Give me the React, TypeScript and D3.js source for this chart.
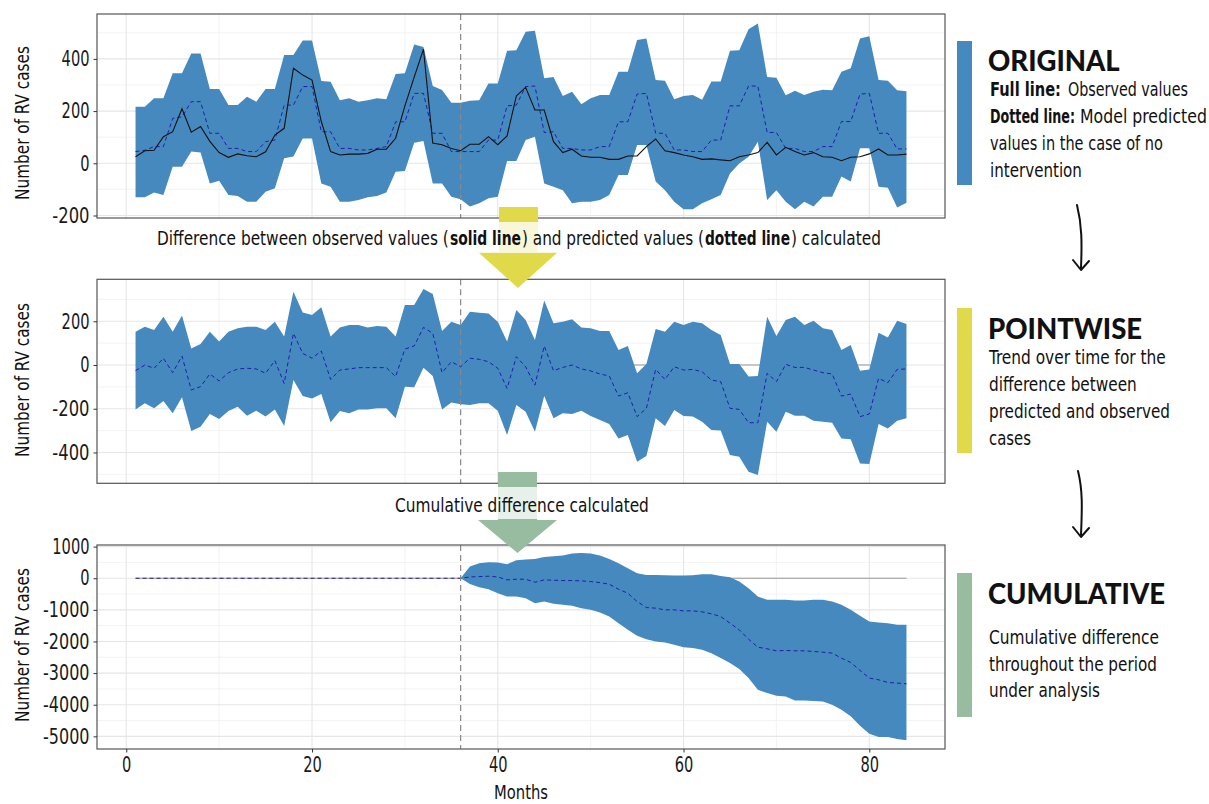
import React, { useRef, useEffect } from 'react';
import * as d3 from 'd3';

// months since start of series, intervention at month 36
const months = d3.range(1, 85);
const interventionMonth = 36;
const xTicks = [0, 20, 40, 60, 80];
const xMinorTicks = [10, 30, 50, 70];

// ORIGINAL panel
const origUpper = [
  217, 217, 249, 249, 345, 345, 421, 421, 285, 285, 223, 223,
  255, 236, 285, 285, 415, 415, 470, 470, 315, 312, 242, 249,
  236, 242, 249, 245, 342, 345, 455, 446, 296, 281, 232, 232,
  240, 242, 306, 306, 431, 433, 504, 508, 326, 331, 258, 274,
  226, 249, 262, 262, 351, 351, 472, 478, 319, 316, 245, 258,
  262, 243, 313, 313, 431, 433, 514, 536, 331, 328, 261, 278,
  262, 274, 282, 280, 351, 364, 478, 487, 319, 316, 280, 276,
];
const origLower = [
  -130, -130, -112, -121, -13, -13, 45, 41, -77, -67, -121, -125,
  -147, -147, -109, -96, 19, 26, 95, 95, -77, -90, -147, -147,
  -141, -130, -125, -112, -32, -30, 79, 85, -77, -77, -128, -138,
  -166, -153, -134, -128, 9, 9, 89, 102, -77, -90, -103, -153,
  -147, -147, -141, -121, -45, -45, 70, 70, -70, -103, -147, -176,
  -176, -153, -138, -121, -39, -1, 25, 83, -141, -103, -147, -176,
  -147, -166, -128, -128, -51, -70, 58, 58, -90, -94, -169, -151,
];
const observed = [
  25, 48, 50, 102, 121, 209, 119, 141, 84, 41, 23, 36,
  29, 25, 44, 108, 134, 364, 338, 319, 160, 45, 32, 35,
  35, 38, 54, 54, 96, 220, 330, 437, 78, 71, 57, 48,
  73, 73, 102, 71, 105, 258, 291, 204, 204, 83, 41, 54,
  28, 23, 23, 15, 15, 28, 28, 64, 93, 48, 41, 32,
  25, 15, 17, 13, 10, 25, 32, 41, 80, 32, 61, 45,
  32, 41, 25, 23, 10, 23, 25, 36, 55, 32, 32, 35,
];
const predicted = [
  45, 50, 64, 64, 172, 178, 236, 236, 115, 115, 57, 57,
  45, 45, 83, 89, 223, 223, 294, 294, 121, 121, 57, 57,
  51, 51, 57, 64, 159, 159, 268, 268, 115, 115, 45, 45,
  45, 45, 89, 89, 220, 223, 294, 296, 118, 121, 57, 57,
  51, 51, 64, 64, 159, 159, 265, 268, 115, 115, 51, 51,
  45, 45, 89, 89, 220, 220, 296, 296, 118, 118, 57, 57,
  45, 45, 64, 64, 160, 160, 265, 268, 115, 115, 55, 55,
];

// POINTWISE panel
const pointUpper = [
  152, 175, 160, 221, 152, 226, 76, 96, 152, 107, 152, 168,
  175, 175, 160, 198, 130, 335, 240, 229, 264, 130, 172, 183,
  183, 172, 178, 175, 130, 274, 274, 348, 325, 155, 198, 183,
  244, 239, 236, 198, 107, 252, 206, 114, 295, 191, 198, 209,
  172, 168, 155, 155, 69, 87, -38, 5, 165, 152, 198, 183,
  198, 191, 160, 137, 5, 5, -53, -50, 221, 133, 206, 221,
  183, 203, 168, 160, 69, 92, -26, -20, 148, 126, 203, 188,
];
const pointLower = [
  -203, -175, -198, -165, -221, -148, -302, -282, -224, -247, -210, -191,
  -232, -209, -236, -203, -279, -69, -142, -153, -133, -262, -210, -221,
  -203, -203, -198, -198, -244, -99, -102, -12, -50, -203, -172, -180,
  -183, -175, -175, -209, -320, -183, -214, -305, -142, -244, -221, -224,
  -209, -233, -252, -270, -336, -320, -442, -416, -244, -279, -206, -233,
  -236, -259, -297, -300, -412, -419, -488, -503, -259, -305, -214, -232,
  -232, -255, -259, -264, -336, -340, -450, -453, -270, -290, -255, -244,
];
const pointMean = [
  -26, 0, -15, 31, -35, 41, -114, -99, -41, -73, -35, -18,
  -15, -18, -38, 20, -84, 145, 53, 31, 64, -66, -23, -18,
  -12, -12, -12, -12, -53, 73, 87, 172, 145, -35, 15, -8,
  31, 26, 15, -15, -107, 38, -8, -92, 87, -26, -11, 0,
  -18, -27, -41, -50, -142, -127, -236, -198, -20, -66, -8, -23,
  -20, -31, -69, -76, -198, -203, -264, -264, -38, -76, 3, -11,
  -11, -23, -35, -41, -142, -133, -236, -224, -61, -81, -20, -18,
];

// CUMULATIVE panel
const cumUpper = [
  0, 0, 0, 0, 0, 0, 0, 0, 0, 0, 0, 0,
  0, 0, 0, 0, 0, 0, 0, 0, 0, 0, 0, 0,
  0, 0, 0, 0, 0, 0, 0, 0, 0, 0, 0, 0,
  368, 474, 505, 495, 442, 568, 589, 610, 674, 695, 716, 779,
  800, 779, 716, 610, 474, 316, 158, 105, 105, 95, 84, 84,
  95, 126, 126, 74, 32, -105, -316, -579, -684, -684, -684, -705,
  -705, -684, -684, -737, -842, -1000, -1190, -1368, -1400, -1421, -1474, -1474,
];
const cumLower = [
  0, 0, 0, 0, 0, 0, 0, 0, 0, 0, 0, 0,
  0, 0, 0, 0, 0, 0, 0, 0, 0, 0, 0, 0,
  0, 0, 0, 0, 0, 0, 0, 0, 0, 0, 0, 0,
  -179, -284, -347, -474, -579, -579, -632, -789, -737, -810, -842, -874,
  -947, -1000, -1084, -1210, -1421, -1632, -1821, -1926, -2000, -2032, -2105, -2179,
  -2210, -2263, -2369, -2526, -2684, -2874, -3158, -3526, -3632, -3716, -3737, -3863,
  -3863, -3884, -3895, -4000, -4158, -4368, -4663, -4916, -5021, -5021, -5084, -5126,
];
const cumMean = [
  0, 0, 0, 0, 0, 0, 0, 0, 0, 0, 0, 0,
  0, 0, 0, 0, 0, 0, 0, 0, 0, 0, 0, 0,
  0, 0, 0, 0, 0, 0, 0, 0, 0, 0, 0, 0,
  41, 52, 63, 41, -52, -31, -31, -126, -52, -63, -73, -73,
  -84, -105, -137, -189, -347, -474, -737, -926, -947, -1000, -1000, -1032,
  -1032, -1063, -1126, -1210, -1421, -1632, -1926, -2179, -2232, -2295, -2284, -2295,
  -2295, -2316, -2337, -2369, -2526, -2663, -2916, -3158, -3211, -3295, -3316, -3337,
];

const yTicks1 = [-200, 0, 200, 400];
const yMinor1 = [-100, 100, 300, 500];
const yTicks2 = [-400, -200, 0, 200];
const yMinor2 = [-500, -300, -100, 100, 300];
const yTicks3 = [-5000, -4000, -3000, -2000, -1000, 0, 1000];
const yMinor3 = [-4500, -3500, -2500, -1500, -500, 500];

const condensed = "'Liberation Sans Narrow', 'DejaVu Sans Condensed', 'Roboto', sans-serif";
const heavy = "Lato, 'DejaVu Sans', sans-serif";
const bandFill = '#4589bf';

// a run of text: [text, bold, start x, end x]
type Run = [string, boolean, number, number];

const App: React.FC = () => {
  const svgRef = useRef<SVGSVGElement | null>(null);

  useEffect(() => {
    if (!svgRef.current) return;
    const svg = d3.select(svgRef.current);
    svg.selectAll('*').remove();

    // squeeze a text horizontally to the width it takes in the condensed reference font
    const fit = (sel: d3.Selection<any, any, any, any>, w: number, pre = '') => {
      const node = sel.node() as SVGTextElement;
      const nat = node.getComputedTextLength() || w;
      const x0 = +(sel.attr('x') || 0);
      const y0 = +(sel.attr('y') || 0);
      sel.attr('x', 0).attr('y', 0)
        .attr('transform', `${pre} translate(${x0},${y0}) scale(${w / nat},1)`);
      return sel;
    };

    const runs = (list: Run[], baseY: number, size: number) => {
      list.forEach(([s, b, x0, x1]) => {
        fit(svg.append('text')
          .attr('x', x0).attr('y', baseY)
          .attr('font-family', condensed).attr('font-size', size)
          .attr('font-weight', b ? 'bold' : 'normal').attr('fill', '#111')
          .text(s), x1 - x0);
      });
    };

    const left = 97, right = 945, panelH = 204;
    const x = d3.scaleLinear()
      .domain([1 - 83 * 0.05, 84 + 83 * 0.05])
      .range([left, right]);

    const panels = [
      { top: 14, domain: [-209.6, 572], ticks: yTicks1, minor: yMinor1, upper: origUpper, lower: origLower, mean: predicted, obs: observed, zero: false, titleY: 123 },
      { top: 279.3, domain: [-541, 392], ticks: yTicks2, minor: yMinor2, upper: pointUpper, lower: pointLower, mean: pointMean, obs: null, zero: true, titleY: 380 },
      { top: 545, domain: [-5400, 1051], ticks: yTicks3, minor: yMinor3, upper: cumUpper, lower: cumLower, mean: cumMean, obs: null, zero: true, titleY: 645 },
    ];

    panels.forEach((p, pi) => {
      const y = d3.scaleLinear().domain(p.domain).range([p.top + panelH, p.top]);
      const g = svg.append('g');

      g.append('rect')
        .attr('x', left).attr('y', p.top)
        .attr('width', right - left).attr('height', panelH)
        .attr('fill', '#fff');

      // grid
      g.selectAll('.ymin').data(p.minor).enter().append('line')
        .attr('x1', left).attr('x2', right)
        .attr('y1', d => y(d)).attr('y2', d => y(d))
        .attr('stroke', '#f0f0f0').attr('stroke-width', 0.8);
      g.selectAll('.xmin').data(xMinorTicks).enter().append('line')
        .attr('x1', d => x(d)).attr('x2', d => x(d))
        .attr('y1', p.top).attr('y2', p.top + panelH)
        .attr('stroke', '#f0f0f0').attr('stroke-width', 0.8);
      g.selectAll('.ymaj').data(p.ticks).enter().append('line')
        .attr('x1', left).attr('x2', right)
        .attr('y1', d => y(d)).attr('y2', d => y(d))
        .attr('stroke', '#e6e6e6').attr('stroke-width', 1.1);
      g.selectAll('.xmaj').data(xTicks).enter().append('line')
        .attr('x1', d => x(d)).attr('x2', d => x(d))
        .attr('y1', p.top).attr('y2', p.top + panelH)
        .attr('stroke', '#e6e6e6').attr('stroke-width', 1.1);

      if (p.zero) {
        g.append('line')
          .attr('x1', x(months[0])).attr('x2', x(months[months.length - 1]))
          .attr('y1', y(0)).attr('y2', y(0))
          .attr('stroke', '#9a9a9a').attr('stroke-width', 1.2);
      }

      const area = d3.area<number>()
        .x(d => x(d))
        .y0((_, i) => y(p.lower[i]))
        .y1((_, i) => y(p.upper[i]));
      g.append('path').datum(months)
        .attr('d', area)
        .attr('fill', bandFill);

      const meanLine = d3.line<number>()
        .x(d => x(d))
        .y((_, i) => y(p.mean[i]));
      g.append('path').datum(months)
        .attr('d', meanLine)
        .attr('fill', 'none')
        .attr('stroke', '#1f1fa8')
        .attr('stroke-width', 1)
        .attr('stroke-dasharray', '4,3');

      if (p.obs) {
        const obs = p.obs;
        const obsLine = d3.line<number>()
          .x(d => x(d))
          .y((_, i) => y(obs[i]));
        g.append('path').datum(months)
          .attr('d', obsLine)
          .attr('fill', 'none')
          .attr('stroke', '#111')
          .attr('stroke-width', 1.1);
      }

      g.append('line')
        .attr('x1', x(interventionMonth)).attr('x2', x(interventionMonth))
        .attr('y1', p.top).attr('y2', p.top + panelH)
        .attr('stroke', '#8a8a8a').attr('stroke-width', 1.2)
        .attr('stroke-dasharray', '6,4');

      g.append('rect')
        .attr('x', left).attr('y', p.top)
        .attr('width', right - left).attr('height', panelH)
        .attr('fill', 'none').attr('stroke', '#555').attr('stroke-width', 1.2);

      // y axis
      const yAxis = g.append('g').attr('transform', `translate(${left},0)`)
        .call(d3.axisLeft(y).tickValues(p.ticks).tickSize(3.5).tickPadding(4).tickFormat(d => String(d)));
      yAxis.select('.domain').remove();
      yAxis.selectAll('line').attr('stroke', '#333');
      yAxis.selectAll<SVGTextElement, number>('text')
        .attr('font-family', condensed).attr('font-size', 21).attr('fill', '#1a1a1a')
        .each(function (d) { fit(d3.select(this), String(d).length * 9.3); });

      fit(g.append('text')
        .attr('text-anchor', 'middle')
        .attr('font-family', condensed).attr('font-size', 20).attr('fill', '#111')
        .text('Number of RV cases'), 154, `translate(29,${p.titleY}) rotate(-90)`);

      if (pi === 2) {
        const xAxis = g.append('g').attr('transform', `translate(0,${p.top + panelH})`)
          .call(d3.axisBottom(x).tickValues(xTicks).tickSize(3.5).tickPadding(5));
        xAxis.select('.domain').remove();
        xAxis.selectAll('line').attr('stroke', '#333');
        xAxis.selectAll<SVGTextElement, number>('text')
          .attr('font-family', condensed).attr('font-size', 21).attr('fill', '#1a1a1a')
          .each(function (d) { fit(d3.select(this), String(d).length * 9.3); });
        fit(g.append('text')
          .attr('x', (left + right) / 2).attr('y', 799)
          .attr('text-anchor', 'middle')
          .attr('font-family', condensed).attr('font-size', 20).attr('fill', '#111')
          .text('Months'), 54);
      }
    });

    // block arrows between panels
    const arrow = (sx0: number, sx1: number, top: number, headY: number, hx0: number, hx1: number, tipY: number) =>
      `M${sx0},${top}L${sx1},${top}L${sx1},${headY}L${hx1},${headY}L${(hx0 + hx1) / 2},${tipY}L${hx0},${headY}L${sx0},${headY}Z`;

    svg.append('path').attr('d', arrow(499, 538, 207, 252, 478, 558, 288)).attr('fill', '#e0da4a');
    svg.append('rect').attr('x', 95).attr('y', 222).attr('width', 845).attr('height', 31)
      .attr('fill', '#fff').attr('opacity', 0.78);
    runs([
      ['Difference between observed values (', false, 157, 449],
      ['solid line', true, 450, 521],
      [') and predicted values (', false, 522, 704],
      ['dotted line', true, 705, 790],
      [') calculated', false, 791, 881],
    ], 245, 20);

    svg.append('path').attr('d', arrow(498, 537, 472, 520, 478, 557, 553)).attr('fill', '#97bc9f');
    svg.append('rect').attr('x', 283).attr('y', 487).attr('width', 477).attr('height', 32)
      .attr('fill', '#fff').attr('opacity', 0.78);
    runs([['Cumulative difference calculated', false, 395, 649]], 512, 20);

    // right-hand notes
    const notes: { color: string; barTop: number; barBot: number; title: string; titleY: number; lines: Run[][]; firstY: number; gap: number }[] = [
      {
        color: bandFill, barTop: 41, barBot: 185, title: 'ORIGINAL', titleY: 71,
        lines: [
          [['Full line:', true, 990, 1061], ['Observed values', false, 1068, 1188]],
          [['Dotted line:', true, 990, 1075], ['Model predicted', false, 1080, 1207]],
          [['values in the case of no', false, 990, 1163]],
          [['intervention', false, 990, 1082]],
        ],
        firstY: 96, gap: 27,
      },
      {
        color: '#e0da4a', barTop: 308, barBot: 453, title: 'POINTWISE', titleY: 339,
        lines: [
          [['Trend over time for the', false, 989, 1166]],
          [['difference between', false, 989, 1137]],
          [['predicted and observed', false, 989, 1170]],
          [['cases', false, 989, 1031]],
        ],
        firstY: 364, gap: 27,
      },
      {
        color: '#97bc9f', barTop: 573, barBot: 717, title: 'CUMULATIVE', titleY: 604,
        lines: [
          [['Cumulative difference', false, 989, 1159]],
          [['throughout the period', false, 989, 1157]],
          [['under analysis', false, 989, 1100]],
        ],
        firstY: 644, gap: 26.5,
      },
    ];

    notes.forEach(n => {
      svg.append('rect').attr('x', 957).attr('y', n.barTop).attr('width', 15).attr('height', n.barBot - n.barTop)
        .attr('fill', n.color);
      svg.append('text').attr('x', 988).attr('y', n.titleY)
        .attr('font-family', heavy).attr('font-weight', 900).attr('font-size', 27.5).attr('fill', '#111')
        .text(n.title);
      n.lines.forEach((ln, li) => runs(ln, n.firstY + li * n.gap, 19.5));
    });

    // hand-drawn arrows
    const hand = [
      { x0: 1077, y0: 205, x1: 1081, y1: 268 },
      { x0: 1078, y0: 471, x1: 1081, y1: 535 },
    ];
    hand.forEach(h => {
      svg.append('path')
        .attr('d', `M${h.x0},${h.y0}C${h.x0 + 5},${h.y0 + 20} ${h.x1 + 1},${h.y1 - 25} ${h.x1},${h.y1}`)
        .attr('fill', 'none').attr('stroke', '#111').attr('stroke-width', 2).attr('stroke-linecap', 'round');
      svg.append('path')
        .attr('d', `M${h.x1 - 8},${h.y1 - 8}L${h.x1},${h.y1 + 2}L${h.x1 + 8},${h.y1 - 7}`)
        .attr('fill', 'none').attr('stroke', '#111').attr('stroke-width', 2)
        .attr('stroke-linecap', 'round').attr('stroke-linejoin', 'round');
    });
  }, []);

  return (
    <svg
      ref={svgRef}
      width={1209}
      height={804}
      style={{ position: 'absolute', left: 0, top: 0, background: '#fff' }}
    />
  );
};

export default App;
